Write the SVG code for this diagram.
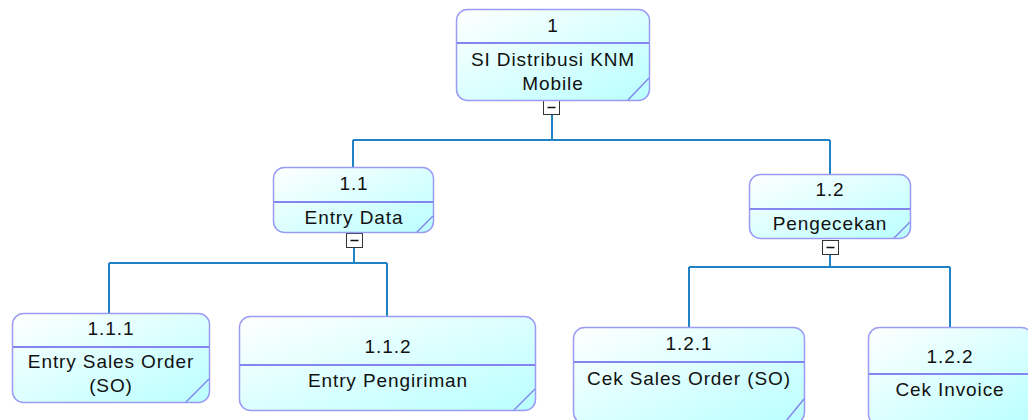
<svg xmlns="http://www.w3.org/2000/svg" width="1028" height="420" viewBox="0 0 1028 420">
  <defs>
    <linearGradient id="fill" x1="0" y1="0" x2="1" y2="1">
      <stop offset="0" stop-color="#ffffff"/>
      <stop offset="1" stop-color="#b9ffff"/>
    </linearGradient>
  </defs>
  <style>
    .box { fill: url(#fill); stroke: #9b9bf5; stroke-width: 1.5; }
    .sep { stroke: #8585f0; stroke-width: 2; }
    .corner { stroke: #8585f0; stroke-width: 1.5; }
    .lbl { font-family: "Liberation Sans", Arial, sans-serif; font-size: 19px; fill: #111; text-anchor: middle; letter-spacing: 0.9px; }
    .wire { fill: none; stroke: #1e82c4; stroke-width: 2; }
    .tog { fill: #ffffff; stroke: #333; stroke-width: 1; }
    .togm { stroke: #111; stroke-width: 1.5; }
  </style>

  <!-- connectors -->
  <g id="connectors">
    <path class="wire" d="M552 115 V140 M353 140 H830 M353 140 V167 M830 140 V174"/>
    <path class="wire" d="M354 248 V263 M109 263 H387 M109 263 V313 M387 263 V316"/>
    <path class="wire" d="M830 254 V267 M689 267 H950 M689 267 V327 M950 267 V327"/>
  </g>

  <!-- collapse toggles -->
  <g id="toggles">
    <rect class="tog" x="543.5" y="100.5" width="16" height="14"/>
    <line class="togm" x1="547.5" y1="107.5" x2="555.5" y2="107.5"/>
    <rect class="tog" x="346.5" y="233.5" width="16" height="14"/>
    <line class="togm" x1="350.5" y1="240.5" x2="358.5" y2="240.5"/>
    <rect class="tog" x="822.5" y="240.5" width="16" height="14"/>
    <line class="togm" x1="826.5" y1="247.5" x2="834.5" y2="247.5"/>
  </g>

  <g id="n1">
    <rect class="box" x="456.5" y="9.5" width="193" height="91" rx="11"/>
    <line class="sep" x1="457" y1="43" x2="649" y2="43"/>
    <line class="corner" x1="628" y1="100" x2="649" y2="78"/>
    <text class="lbl" x="553" y="32">1</text>
    <text class="lbl" x="553" y="66">SI Distribusi KNM</text>
    <text class="lbl" x="553" y="90">Mobile</text>
  </g>

  <g id="n1_1">
    <rect class="box" x="273.5" y="167.5" width="160" height="65" rx="11"/>
    <line class="sep" x1="274" y1="202" x2="433" y2="202"/>
    <line class="corner" x1="417" y1="232" x2="433" y2="216"/>
    <text class="lbl" x="354" y="190">1.1</text>
    <text class="lbl" x="354" y="224">Entry Data</text>
  </g>

  <g id="n1_2">
    <rect class="box" x="749.5" y="174.5" width="161" height="64" rx="11"/>
    <line class="sep" x1="750" y1="209" x2="910" y2="209"/>
    <line class="corner" x1="894" y1="238" x2="910" y2="222"/>
    <text class="lbl" x="830" y="196">1.2</text>
    <text class="lbl" x="830" y="230">Pengecekan</text>
  </g>

  <g id="n1_1_1">
    <rect class="box" x="12.5" y="313.5" width="197" height="89" rx="11"/>
    <line class="sep" x1="13" y1="347" x2="209" y2="347"/>
    <line class="corner" x1="186" y1="402" x2="209" y2="379"/>
    <text class="lbl" x="111" y="335">1.1.1</text>
    <text class="lbl" x="111" y="368">Entry Sales Order</text>
    <text class="lbl" x="111" y="392">(SO)</text>
  </g>

  <g id="n1_1_2">
    <rect class="box" x="239.5" y="316.5" width="296" height="94" rx="11"/>
    <line class="sep" x1="240" y1="365" x2="535" y2="365"/>
    <line class="corner" x1="514" y1="410" x2="535" y2="389"/>
    <text class="lbl" x="388" y="353">1.1.2</text>
    <text class="lbl" x="388" y="387">Entry Pengiriman</text>
  </g>

  <g id="n1_2_1">
    <rect class="box" x="573.5" y="327.5" width="231" height="96" rx="11"/>
    <line class="sep" x1="574" y1="362" x2="804" y2="362"/>
    <line class="corner" x1="786" y1="421" x2="804" y2="399"/>
    <text class="lbl" x="689" y="350">1.2.1</text>
    <text class="lbl" x="689" y="385">Cek Sales Order (SO)</text>
  </g>

  <g id="n1_2_2">
    <rect class="box" x="868.5" y="327.5" width="164" height="98" rx="11"/>
    <line class="sep" x1="869" y1="374" x2="1032" y2="374"/>
    <text class="lbl" x="950" y="363">1.2.2</text>
    <text class="lbl" x="950" y="396">Cek Invoice</text>
  </g>
</svg>
